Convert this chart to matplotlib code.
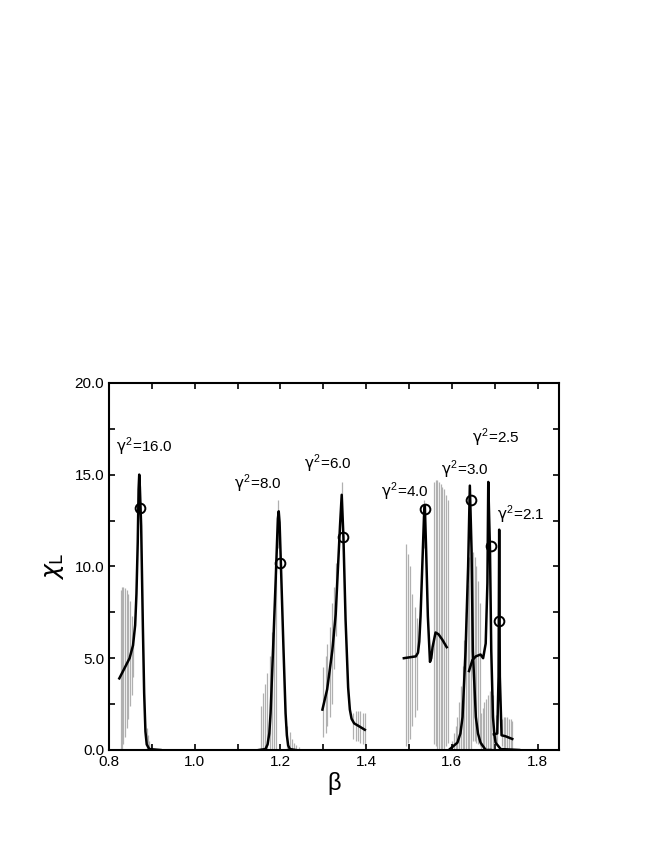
import matplotlib
matplotlib.use("Agg")
import matplotlib.pyplot as plt
from matplotlib.ticker import MultipleLocator, FormatStrFormatter

plt.rcParams["font.family"] = ["Liberation Sans", "DejaVu Sans"]
plt.rcParams["mathtext.fontset"] = "custom"
plt.rcParams["mathtext.rm"] = "Liberation Sans"
plt.rcParams["mathtext.it"] = "DejaVu Sans"

# black curves: chi_L(beta) for each gamma^2
g16_beta = [0.824, 0.835, 0.848, 0.856, 0.861, 0.864, 0.867, 0.869, 0.8705, 0.872, 0.875, 0.879, 0.882, 0.885, 0.888, 0.894, 0.920]
g16_chi = [3.9, 4.4, 5.0, 5.7, 6.8, 8.5, 11.3, 14.2, 15.0, 14.3, 12.2, 6.7, 3.1, 1.0, 0.3, 0.05, 0.0]

g8_beta = [1.150, 1.165, 1.170, 1.174, 1.177, 1.183, 1.189, 1.194, 1.196, 1.198, 1.201, 1.207, 1.212, 1.215, 1.218, 1.222, 1.235]
g8_chi = [0.0, 0.05, 0.3, 0.9, 2.0, 5.6, 9.3, 12.6, 13.0, 12.4, 10.2, 5.6, 2.0, 0.8, 0.25, 0.05, 0.0]

g6_beta = [1.298, 1.309, 1.321, 1.329, 1.334, 1.339, 1.343, 1.347, 1.352, 1.358, 1.362, 1.366, 1.372, 1.383, 1.397]
g6_chi = [2.2, 3.3, 5.4, 7.4, 9.8, 12.2, 13.9, 11.6, 7.1, 3.4, 2.2, 1.7, 1.45, 1.3, 1.1]

g4_beta = [1.488, 1.516, 1.521, 1.524, 1.527, 1.531, 1.535, 1.537, 1.540, 1.544, 1.549, 1.552, 1.555, 1.562, 1.569, 1.578, 1.588]
g4_chi = [5.0, 5.1, 5.3, 5.9, 7.3, 10.0, 12.7, 13.3, 10.9, 7.3, 4.8, 5.0, 5.6, 6.4, 6.3, 6.0, 5.6]

g3_beta = [1.593, 1.613, 1.620, 1.625, 1.632, 1.638, 1.642, 1.646, 1.649, 1.656, 1.661, 1.667, 1.679, 1.690]
g3_chi = [0.0, 0.4, 0.9, 1.8, 5.4, 10.0, 14.4, 10.9, 5.4, 1.8, 0.9, 0.4, 0.0, 0.0]

g25_beta = [1.640, 1.648, 1.656, 1.667, 1.673, 1.679, 1.683, 1.685, 1.689, 1.692, 1.696, 1.699, 1.702, 1.714, 1.757]
g25_chi = [4.3, 4.9, 5.1, 5.2, 5.0, 5.8, 9.1, 14.6, 10.9, 5.4, 1.8, 0.9, 0.4, 0.05, 0.0]

g21_beta = [1.698, 1.706, 1.709, 1.7105, 1.712, 1.716, 1.725, 1.741]
g21_chi = [0.85, 0.9, 4.0, 12.0, 4.0, 0.8, 0.75, 0.6]

# circles (pseudo-critical points)
circle_beta = [0.873, 1.199, 1.347, 1.537, 1.644, 1.691, 1.7105]
circle_chi = [13.2, 10.2, 11.6, 13.1, 13.6, 11.1, 7.0]

# grey error bars: position, lower end, upper end
bar_beta = [0.827, 0.830, 0.833, 0.837, 0.841, 0.845, 0.849, 0.853, 0.857,
            0.888, 0.891, 0.894, 0.897,
            1.154, 1.159, 1.164, 1.169, 1.175, 1.180, 1.185, 1.190, 1.195,
            1.216, 1.222, 1.226, 1.232, 1.237, 1.243,
            1.300, 1.306, 1.309, 1.315, 1.320, 1.325, 1.330, 1.343,
            1.370, 1.376, 1.381, 1.386, 1.392, 1.397,
            1.492, 1.498, 1.502, 1.508, 1.513, 1.518, 1.536,
            1.558, 1.562, 1.566, 1.570, 1.574, 1.578, 1.582, 1.586, 1.590,
            1.597, 1.601, 1.605, 1.609, 1.613, 1.617, 1.621, 1.625, 1.629, 1.633, 1.637, 1.641, 1.645,
            1.649, 1.653, 1.657, 1.661, 1.665,
            1.668, 1.672, 1.676, 1.680, 1.684, 1.688, 1.692, 1.696,
            1.702, 1.706, 1.717, 1.721, 1.725, 1.729, 1.733, 1.737, 1.741]
bar_lo = [0.0, 0.0, 0.3, 0.7, 1.2, 1.7, 2.4, 3.0, 4.0,
          0.0, 0.0, 0.0, 0.0,
          0.0, 0.0, 0.0, 0.0, 0.0, 0.0, 0.0, 0.0, 11.0,
          0.0, 0.0, 0.0, 0.0, 0.0, 0.0,
          0.7, 0.9, 1.3, 1.8, 2.5, 4.4, 6.2, 12.0,
          0.6, 0.5, 0.5, 0.4, 0.3, 0.2,
          0.2, 0.4, 0.6, 1.3, 1.8, 2.2, 11.0,
          0.3, 0.2, 0.0, 0.0, 0.0, 0.0, 0.0, 0.2, 0.4,
          0.0, 0.0, 0.0, 0.0, 0.0, 0.0, 0.0, 0.0, 0.0, 0.0, 0.0, 0.0, 0.0,
          0.5, 0.5, 0.4, 0.3, 0.2,
          0.0, 0.0, 0.0, 0.0, 0.0, 0.0, 0.0, 0.0,
          0.4, 0.4, 0.2, 0.1, 0.0, 0.0, 0.0, 0.0, 0.0]
bar_hi = [8.7, 8.9, 8.9, 8.8, 8.7, 8.5, 8.1, 7.3, 6.3,
          1.2, 0.8, 0.5, 0.3,
          2.4, 3.1, 3.6, 4.2, 5.1, 6.4, 7.6, 9.5, 13.6,
          1.3, 1.0, 0.6, 0.4, 0.25, 0.15,
          4.5, 5.1, 5.8, 6.7, 8.0, 8.9, 10.2, 14.6,
          2.0, 2.1, 2.1, 2.1, 2.0, 2.0,
          11.2, 10.7, 10.0, 8.5, 7.8, 7.2, 13.6,
          14.6, 14.7, 14.7, 14.6, 14.5, 14.3, 14.2, 13.9, 13.6,
          0.2, 0.5, 0.9, 1.3, 1.8, 2.6, 3.5, 4.6, 6.0, 7.5, 9.0, 10.5, 11.0,
          10.8, 10.5, 10.0, 9.2, 8.0,
          2.0, 2.3, 2.6, 2.8, 3.0, 3.2, 3.3, 3.0,
          1.9, 1.9, 1.7, 1.8, 1.8, 1.8, 1.7, 1.7, 1.6]

label_text = [r"$\gamma^2$=16.0", r"$\gamma^2$=8.0", r"$\gamma^2$=6.0", r"$\gamma^2$=4.0",
              r"$\gamma^2$=3.0", r"$\gamma^2$=2.5", r"$\gamma^2$=2.1"]
label_beta = [0.816, 1.092, 1.255, 1.434, 1.574, 1.647, 1.706]
label_chi = [16.5, 14.5, 15.6, 14.05, 15.25, 17.0, 12.8]


def main():
    fig = plt.figure(figsize=(6.54, 8.46), dpi=100)
    ax = fig.add_axes([0.1667, 0.1135, 0.688, 0.434])

    ax.vlines(bar_beta, bar_lo, bar_hi, color="#b0b0b0", linewidth=0.9, zorder=1)

    curves = [(g16_beta, g16_chi), (g8_beta, g8_chi), (g6_beta, g6_chi), (g4_beta, g4_chi),
              (g3_beta, g3_chi), (g25_beta, g25_chi), (g21_beta, g21_chi)]
    for xs, ys in curves:
        ax.plot(xs, ys, color="black", linewidth=1.8, zorder=2, solid_joinstyle="round")

    ax.plot(circle_beta, circle_chi, linestyle="none", marker="o", markersize=7,
            markerfacecolor="none", markeredgecolor="black", markeredgewidth=1.4, zorder=3)

    for txt, xb, yc in zip(label_text, label_beta, label_chi):
        ax.text(xb, yc, txt, fontsize=11, ha="left", va="center")

    ax.set_xlim(0.8, 1.85)
    ax.set_ylim(0.0, 20.0)
    ax.xaxis.set_major_locator(MultipleLocator(0.2))
    ax.xaxis.set_minor_locator(MultipleLocator(0.1))
    ax.yaxis.set_major_locator(MultipleLocator(5.0))
    ax.yaxis.set_minor_locator(MultipleLocator(2.5))
    ax.xaxis.set_major_formatter(FormatStrFormatter("%.1f"))
    ax.yaxis.set_major_formatter(FormatStrFormatter("%.1f"))
    ax.tick_params(which="both", direction="in", top=True, right=True, length=4, width=1.2,
                   labelsize=11)
    for sp in ax.spines.values():
        sp.set_linewidth(1.5)

    ax.set_xlabel("β", fontsize=17, labelpad=2)
    ax.set_ylabel(r"$\chi_{\rm L}$", fontsize=18, labelpad=6, math_fontfamily="dejavusans")

    fig.savefig("out.png", dpi=100)
    plt.close(fig)


if __name__ == "__main__":
    main()
